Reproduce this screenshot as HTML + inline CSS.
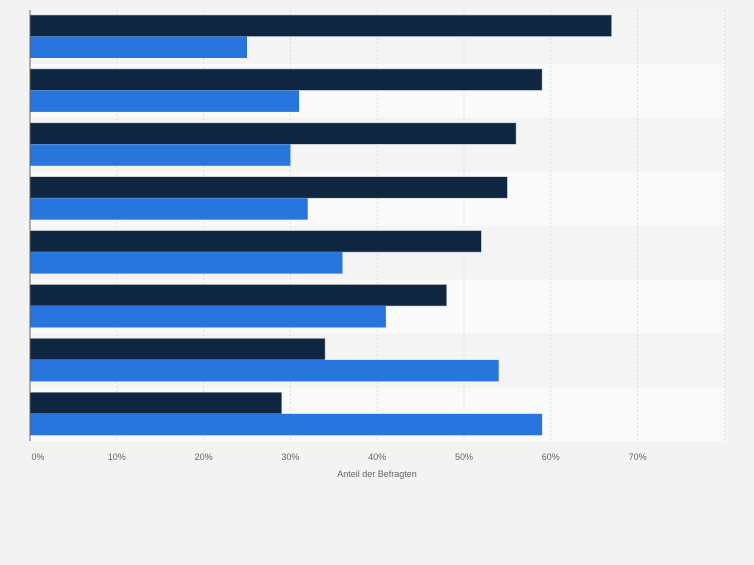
<!DOCTYPE html>
<html><head><meta charset="utf-8"><style>
body{margin:0;background:#f3f3f3;font-family:"Liberation Sans",sans-serif}
</style></head><body>
<svg id="chart" width="754" height="560" xmlns="http://www.w3.org/2000/svg">
<rect width="754" height="560" fill="#f3f3f3"/>
<g id="bands"></g><g id="grid"></g><g id="bars"></g><g id="ticks"></g>
<line x1="30" y1="10" x2="30" y2="441" stroke="#666" stroke-width="1"/>
<text x="377" y="477" font-size="9" fill="#666" text-anchor="middle">Anteil der Befragten</text>
</svg>
<script>
const categories=["A","B","C","D","E","F","G","H"];
const seriesDark=[67,59,56,55,52,48,34,29];
const seriesBlue=[25,31,30,32,36,41,54,59];
const tickLabels=["0%","10%","20%","30%","40%","50%","60%","70%"];
const tickValues=[0,10,20,30,40,50,60,70,80];
const NS="http://www.w3.org/2000/svg";
const x0=30,pxPer=8.68,plotTop=10,band=53.9;
const xs=v=>x0+v*pxPer;
const ys=i=>plotTop+i*band;
function mk(t,a,p){const e=document.createElementNS(NS,t);for(const k in a)e.setAttribute(k,a[k]);document.getElementById(p).appendChild(e);return e;}
categories.forEach((c,i)=>{
 const b=mk('rect',{x:30,y:ys(i),width:695,height:band,fill:i%2?'#fafafa':'#f4f4f4'},'bands');
 
 
});
tickValues.forEach(v=>{
 if(v===0)return;
 const l=mk('line',{x1:xs(v),y1:plotTop,x2:xs(v),y2:441,stroke:'#ddd','stroke-dasharray':'2,2'},'grid');
 
 
});
tickLabels.forEach((t,i)=>{
 const e=mk('text',{x:xs(tickValues[i])+(i===0?8:0),y:460,'font-size':9,fill:'#666','text-anchor':'middle'},'ticks');
 e.textContent=t;
 
 
});
categories.forEach((c,i)=>{
 const d=mk('rect',{x:30,y:ys(i)+5,width:xs(seriesDark[i])-30,height:21.5,fill:'#0f2640',stroke:'#b8bec6','stroke-width':0.6},'bars');
 
 
 const b=mk('rect',{x:30,y:ys(i)+26.5,width:xs(seriesBlue[i])-30,height:21.5,fill:'#2876dd'},'bars');
 
 
});
</script>
</body></html>
